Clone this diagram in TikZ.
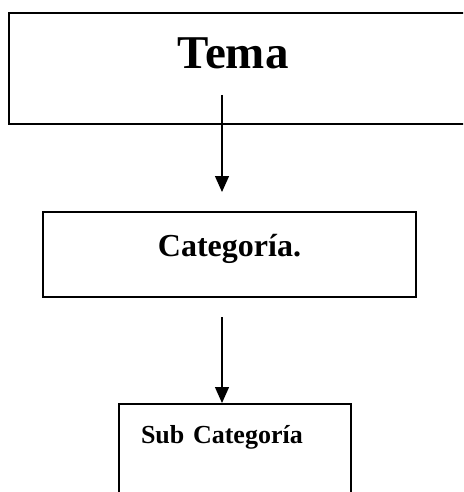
\documentclass[tikz,border=0pt]{standalone}
\usepackage{fontspec}
\setmainfont{Liberation Serif}
\usetikzlibrary{arrows.meta}

\begin{document}
\begin{tikzpicture}[x=1pt, y=-1pt,
        every node/.style = {shape=rectangle, inner sep=0pt, anchor=north west},
        caja/.style = {draw, line width=2pt},
        flecha/.style = {line width=1.3pt, -{Triangle[width=14pt,length=16pt]}}]
    \useasboundingbox (0,0) rectangle (463,492);
    \clip (0,0) rectangle (463,492);
    \node (tema) [minimum width=448pt, text height=55pt, text depth=56pt,
                  font=\fontsize{47}{50}\selectfont\bfseries] at (9,13) {Tema};
    \draw[line width=2pt] ([xshift=20pt]tema.north east) -- (tema.north west)
        -- (tema.south west) -- ([xshift=20pt]tema.south east);
    \node (cat) [caja, minimum width=373pt, text height=44pt, text depth=41pt,
                 font=\fontsize{32}{36}\selectfont\bfseries] at (42,211) {Categoría.};
    \node (sub) [caja, text width=188pt, inner xsep=22pt, align=left,
                 text height=39pt, text depth=80pt,
                 font=\fontsize{26}{30}\selectfont\bfseries] at (118,403) {Sub Categoría};
    \coordinate (a1) at (222,95);
    \coordinate (a2) at (222,192);
    \coordinate (b1) at (222,317);
    \draw[flecha] (a1) -- (a2);
    \draw[flecha] (b1) -- (b1 |- sub.north);
\end{tikzpicture}
\end{document}
